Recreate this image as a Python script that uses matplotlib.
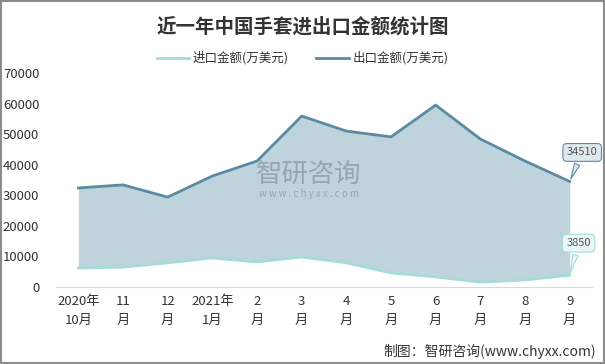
import matplotlib.pyplot as plt
from matplotlib.patches import Rectangle
import numpy as np

plt.rcParams['font.family'] = ['Noto Sans CJK SC', 'DejaVu Sans']

months = ["2020年\n10月", "11\n月", "12\n月", "2021年\n1月", "2\n月", "3\n月",
          "4\n月", "5\n月", "6\n月", "7\n月", "8\n月", "9\n月"]
export_vals = [32400, 33400, 29400, 36300, 41200, 55900, 51000, 49100, 59500, 48400, 41200, 34510]
import_vals = [6200, 6500, 7900, 9500, 8200, 9800, 7900, 4600, 3300, 1600, 2300, 3850]

EXP_COLOR = "#5b8ba2"
IMP_COLOR = "#a6dcd7"
FILL_COLOR = "#bfd3dc"

fig = plt.figure(figsize=(6.05, 3.64), dpi=100)
ax = fig.add_axes([0.0926, 0.2115, 0.886, 0.588])

x = np.arange(len(months))
ax.fill_between(x, import_vals, export_vals, color=FILL_COLOR, lw=0)
ax.plot(x, import_vals, color=IMP_COLOR, lw=2, label="进口金额(万美元)")
ax.plot(x, export_vals, color=EXP_COLOR, lw=2, label="出口金额(万美元)")

ax.set_xlim(-0.5, len(months) - 0.5)
ax.set_ylim(0, 70000)
ax.set_yticks(range(0, 70001, 10000))
ax.set_yticklabels([str(v) for v in range(0, 70001, 10000)], fontsize=9.5, color="#333333")
ax.set_xticks(x)
ax.set_xticklabels(months, fontsize=9.5, color="#333333", linespacing=1.6)
ax.tick_params(length=0, pad=6)
ax.tick_params(axis="y", pad=12)
for s in ["top", "right", "left"]:
    ax.spines[s].set_visible(False)
ax.spines["bottom"].set_color("#d9d9d9")

# value callouts on the last points
ax.annotate(f"{export_vals[-1]}", xy=(x[-1], export_vals[-1]), xytext=(x[-1] + 0.28, export_vals[-1] + 9500),
            fontsize=8, color="#555555", ha="center", va="center",
            bbox=dict(boxstyle="round,pad=0.35", fc="#dfe9ee", ec=EXP_COLOR, lw=0.8),
            arrowprops=dict(arrowstyle="wedge,tail_width=0.5", fc="#dfe9ee", ec=EXP_COLOR, lw=0.8))
ax.annotate(f"{import_vals[-1]}", xy=(x[-1], import_vals[-1]), xytext=(x[-1] + 0.2, import_vals[-1] + 10500),
            fontsize=8, color="#555555", ha="center", va="center",
            bbox=dict(boxstyle="round,pad=0.35", fc="#eaf7f6", ec=IMP_COLOR, lw=0.8),
            arrowprops=dict(arrowstyle="wedge,tail_width=0.5", fc="#eaf7f6", ec=IMP_COLOR, lw=0.8))

# watermark
fig.text(0.51, 0.52, "智研咨询", fontsize=19, color="#7f8f9a", alpha=0.65, ha="center", va="center")
fig.text(0.51, 0.468, "w w w . c h y x x . c o m", fontsize=7, color="#7f8f9a", alpha=0.65, ha="center", va="center")

fig.text(0.5, 0.925, "近一年中国手套进出口金额统计图", fontsize=14, fontweight="bold",
         color="#333333", ha="center", va="center")
fig.legend(loc="center", bbox_to_anchor=(0.5, 0.84), ncol=2, frameon=False, fontsize=9,
           handlelength=2.6, columnspacing=2.2, handletextpad=0.3, labelcolor="#333333")
fig.text(0.985, 0.035, "制图：智研咨询(www.chyxx.com)", fontsize=10, color="#333333",
         ha="right", va="center")

fig.patches.append(Rectangle((0.001, 0.002), 0.997, 0.995, transform=fig.transFigure,
                             fill=False, ec="#8c8c8c", lw=1.5))

fig.savefig("out.png", dpi=100)
